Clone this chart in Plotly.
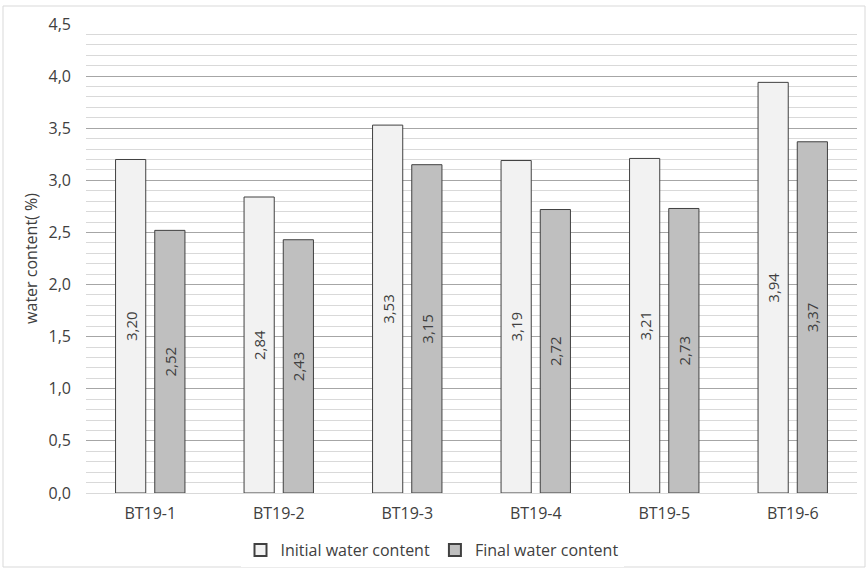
import plotly.graph_objects as go

categories = ["BT19-1", "BT19-2", "BT19-3", "BT19-4", "BT19-5", "BT19-6"]
initial = [3.20, 2.84, 3.53, 3.19, 3.21, 3.94]
final = [2.52, 2.43, 3.15, 2.72, 2.73, 3.37]
y_ticks = [0, 0.5, 1.0, 1.5, 2.0, 2.5, 3.0, 3.5, 4.0, 4.5]

W, H = 867, 569
L, R, T, B = 86, 10, 24, 76
FONT = "Open Sans"
TXT = "#404040"

fig = go.Figure()
fig.add_trace(go.Bar(
    x=categories, y=initial, name="Initial water content",
    marker=dict(color="#F2F2F2", line=dict(color="#404040", width=1)),
    texttemplate="%{y:.2f}", textposition="inside", insidetextanchor="middle",
    textangle=-90, textfont=dict(family=FONT, size=15, color=TXT),
))
fig.add_trace(go.Bar(
    x=categories, y=final, name="Final water content",
    marker=dict(color="#BFBFBF", line=dict(color="#404040", width=1)),
    texttemplate="%{y:.2f}", textposition="inside", insidetextanchor="middle",
    textangle=-90, textfont=dict(family=FONT, size=15, color=TXT),
))

pw = W - L - R
ph = H - T - B
fig.update_layout(
    width=W, height=H,
    margin=dict(l=L, r=R, t=T, b=B, autoexpand=False),
    paper_bgcolor="white", plot_bgcolor="white",
    separators=",.",
    barmode="group", bargap=0.39, bargroupgap=0.23,
    font=dict(family=FONT, size=16, color=TXT),
    showlegend=True,
    legend=dict(orientation="h", x=(432 - L) / pw, xanchor="center",
                y=-(550 - (T + ph)) / ph, yanchor="middle",
                font=dict(family=FONT, size=16, color=TXT),
                itemsizing="constant", traceorder="normal", itemwidth=30,
                tracegroupgap=0),
    xaxis=dict(showgrid=False, showline=True, linecolor="#D9D9D9", linewidth=1,
               ticks="", ticklabelstandoff=6,
               tickfont=dict(size=16, color=TXT), automargin=False),
    yaxis=dict(range=[0, 4.5], tickvals=y_ticks, tickformat=".1f",
               showgrid=True, gridcolor="#A6A6A6", gridwidth=1,
               zeroline=False, showline=False, ticks="", ticklabelstandoff=14,
               tickfont=dict(size=16, color=TXT), automargin=False,
               minor=dict(dtick=0.1, showgrid=True, gridcolor="#D9D9D9", gridwidth=1),
               title=dict(text="water content( %)", font=dict(size=16, color=TXT), standoff=6)),
    shapes=[dict(type="rect", xref="paper", yref="paper",
                 x0=(3 - L) / pw, x1=(865 - L) / pw,
                 y0=(T + ph - 567) / ph, y1=(T + ph - 6) / ph,
                 line=dict(color="#D9D9D9", width=1), fillcolor="rgba(0,0,0,0)", layer="below")],
)

fig.write_html("out.html", config={"displayModeBar": False},
               post_script="document.body.style.margin='0';document.body.style.padding='0';")
